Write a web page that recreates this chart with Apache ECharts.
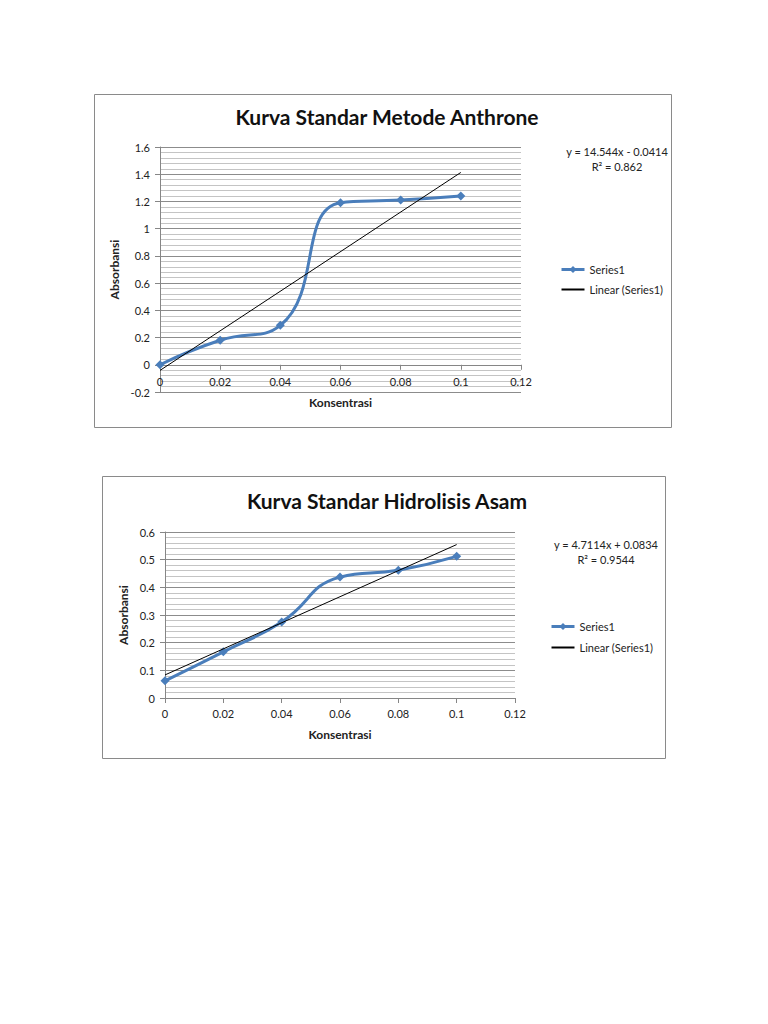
<!DOCTYPE html>
<html>
<head>
<meta charset="utf-8">
<script src="https://cdn.jsdelivr.net/npm/echarts@6/dist/echarts.min.js"></script>
<style>
html,body{margin:0;padding:0;background:#fff;}
#c{width:768px;height:1024px;}
</style>
</head>
<body>
<div id="c"></div>
<script>
// ---- data ----
const konsentrasi = [0, 0.02, 0.04, 0.06, 0.08, 0.1];
const absAnthrone = [0, 0.18, 0.29, 1.19, 1.21, 1.24];
const absHidrolisis = [0.062, 0.167, 0.275, 0.437, 0.462, 0.512];
const trendAnthrone = {slope: 14.544, intercept: -0.0414, r2: '0.862'};
const trendHidrolisis = {slope: 4.7114, intercept: 0.0834, r2: '0.9544'};
const titles = ['Kurva Standar Metode Anthrone', 'Kurva Standar Hidrolisis Asam'];
const xTicks = {min: 0, max: 0.12, interval: 0.02};
const yTicks1 = {min: -0.2, max: 1.6, interval: 0.2};
const yTicks2 = {min: 0, max: 0.6, interval: 0.1};

const FONT = 'Lato, "Open Sans", sans-serif';
const BLUE = '#4a7ebb';

const grids = [
  {left: 160, top: 147, width: 361, height: 245},
  {left: 165, top: 532, width: 350, height: 166}
];

function pairs(xs, ys){ return xs.map((x,i)=>[x, ys[i]]); }
function trendPts(t){
  const x0 = konsentrasi[0], x1 = konsentrasi[konsentrasi.length-1];
  return [[x0, t.slope*x0 + t.intercept], [x1, t.slope*x1 + t.intercept]];
}
function eqText(t){
  const s = t.intercept < 0 ? ' - ' : ' + ';
  return 'y = ' + t.slope + 'x' + s + Math.abs(t.intercept);
}
// place the x axis where the y axis crosses zero (Excel style)
function zeroOffset(gi, yt){
  const frac = Math.max(0, (0 - yt.min) / (yt.max - yt.min));
  return -grids[gi].height * frac;
}

function xAxis(gi, yt, nameGap, labelMargin){
  return {
    gridIndex: gi, type: 'value', min: xTicks.min, max: xTicks.max, interval: xTicks.interval,
    offset: zeroOffset(gi, yt),
    name: 'Konsentrasi', nameLocation: 'middle', nameGap: nameGap,
    nameTextStyle: {fontFamily: FONT, fontWeight: 'bold', fontSize: 12, color: '#222'},
    axisLine: {onZero: false, lineStyle: {color: '#868686', width: 1}},
    axisTick: {show: true, length: 5, lineStyle: {color: '#868686'}},
    axisLabel: {fontFamily: FONT, fontSize: 11, color: '#222', margin: labelMargin},
    splitLine: {show: false}
  };
}
function yAxis(gi, t, nameGap){
  return {
    gridIndex: gi, type: 'value', min: t.min, max: t.max, interval: t.interval,
    name: 'Absorbansi', nameLocation: 'middle', nameGap: nameGap,
    nameTextStyle: {fontFamily: FONT, fontWeight: 'bold', fontSize: 12, color: '#222'},
    axisLine: {show: true, onZero: false, lineStyle: {color: '#868686', width: 1}},
    axisTick: {show: true, length: 5, lineStyle: {color: '#868686'}},
    axisLabel: {fontFamily: FONT, fontSize: 11, color: '#222', margin: 10},
    splitLine: {show: true, lineStyle: {color: '#8c8c8c', width: 1}},
    minorTick: {show: false, splitNumber: 5},
    minorSplitLine: {show: true, lineStyle: {color: '#c4c4c4', width: 1}}
  };
}
function dataSeries(i, ys){
  return {
    name: 'Series1', type: 'line', xAxisIndex: i, yAxisIndex: i,
    data: pairs(konsentrasi, ys), smooth: 0.5,
    symbol: 'diamond', symbolSize: 9,
    lineStyle: {color: BLUE, width: 3},
    itemStyle: {color: BLUE}, z: 3
  };
}
function trendSeries(i, t){
  return {
    name: 'Linear (Series1)', type: 'line', xAxisIndex: i, yAxisIndex: i,
    data: trendPts(t), symbol: 'none', showSymbol: false,
    lineStyle: {color: '#000', width: 1}, itemStyle: {color: '#000'}, z: 4
  };
}
function legend(left, top, gap){
  return {
    orient: 'vertical', left: left, top: top, itemGap: gap,
    itemWidth: 23, itemHeight: 9,
    textStyle: {fontFamily: FONT, fontSize: 11, color: '#222'},
    data: [
      {name: 'Series1', lineStyle: {width: 3}},
      {name: 'Linear (Series1)', itemStyle: {color: 'transparent', borderWidth: 0, opacity: 0}}
    ],
    selectedMode: false
  };
}

const chart = echarts.init(document.getElementById('c'), null, {renderer: 'svg'});
chart.setOption({
  backgroundColor: '#fff',
  animation: false,
  title: [
    {text: titles[0], left: 382, top: 101, textAlign: 'center', textStyle: {fontFamily: FONT, fontSize: 21, fontWeight: 'bold', color: '#111'}},
    {text: titles[1], left: 382, top: 485, textAlign: 'center', textStyle: {fontFamily: FONT, fontSize: 21, fontWeight: 'bold', color: '#111'}}
  ],
  grid: grids.map(g => Object.assign({containLabel: false}, g)),
  xAxis: [xAxis(0, yTicks1, 32, 11), xAxis(1, yTicks2, 30, 10)],
  yAxis: [yAxis(0, yTicks1, 40), yAxis(1, yTicks2, 36)],
  legend: [legend(555, 259, 9), legend(545, 616, 10)],
  series: [
    dataSeries(0, absAnthrone), trendSeries(0, trendAnthrone),
    dataSeries(1, absHidrolisis), trendSeries(1, trendHidrolisis)
  ],
  graphic: [
    {type: 'rect', shape: {x: 94.5, y: 94.5, width: 577, height: 333}, style: {fill: 'none', stroke: '#8a8a8a', lineWidth: 1}, silent: true},
    {type: 'rect', shape: {x: 102.5, y: 476.5, width: 563, height: 282}, style: {fill: 'none', stroke: '#8a8a8a', lineWidth: 1}, silent: true},
    {type: 'text', x: 617, y: 151, style: {text: eqText(trendAnthrone), textAlign: 'center', textVerticalAlign: 'middle', fontFamily: FONT, fontSize: 11, fill: '#222'}},
    {type: 'text', x: 617, y: 166, style: {text: 'R² = ' + trendAnthrone.r2, textAlign: 'center', textVerticalAlign: 'middle', fontFamily: FONT, fontSize: 11, fill: '#222'}},
    {type: 'text', x: 606, y: 544, style: {text: eqText(trendHidrolisis), textAlign: 'center', textVerticalAlign: 'middle', fontFamily: FONT, fontSize: 11, fill: '#222'}},
    {type: 'text', x: 606, y: 559, style: {text: 'R² = ' + trendHidrolisis.r2, textAlign: 'center', textVerticalAlign: 'middle', fontFamily: FONT, fontSize: 11, fill: '#222'}}
  ]
});
</script>
</body>
</html>
